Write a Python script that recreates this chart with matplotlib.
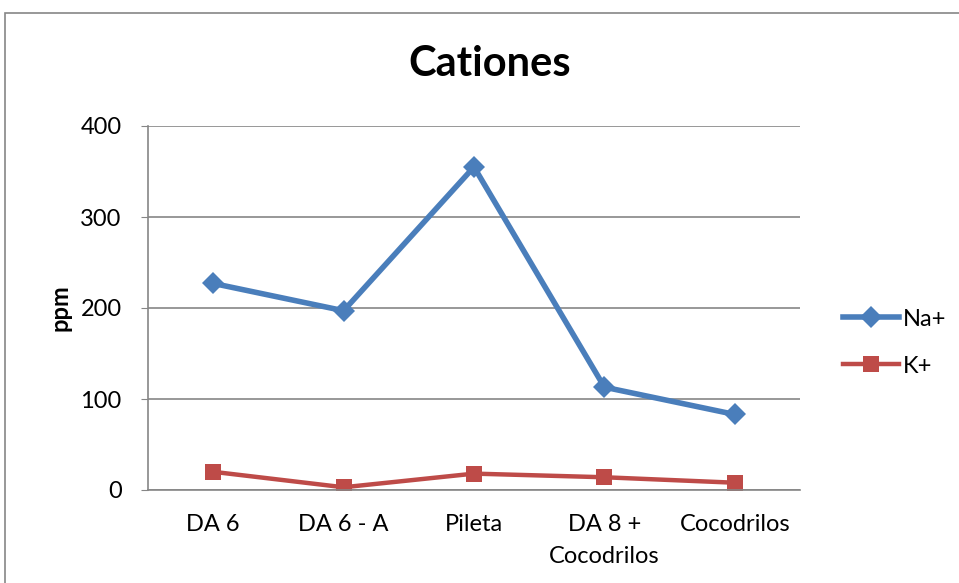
import matplotlib
matplotlib.use("Agg")
import matplotlib.pyplot as plt
from matplotlib.patches import Rectangle

categories = ["DA 6", "DA 6 - A", "Pileta", "DA 8 +\nCocodrilos", "Cocodrilos"]
na_values = [227, 197, 355, 113, 83]
k_values = [20, 3, 18, 14, 8]
yticks = [0, 100, 200, 300, 400]

plt.rcParams['font.family'] = ['Lato', 'DejaVu Sans']

W, H = 959, 583
fig = plt.figure(figsize=(W / 100, H / 100), dpi=100)
ax = fig.add_axes([148 / W, 1 - 490 / H, (800 - 148) / W, (490 - 126) / H])

x = list(range(len(categories)))
ax.plot(x, na_values, color="#4A7EBB", lw=4.0, marker="D", markersize=11,
        markeredgewidth=0, label="Na+", solid_joinstyle="round")
ax.plot(x, k_values, color="#BE4B48", lw=3.2, marker="s", markersize=11,
        markeredgewidth=0, label="K+")

ax.set_xlim(-0.5, len(categories) - 0.5)
ax.set_ylim(0, 400)
ax.set_yticks(yticks)
ax.set_yticklabels([str(v) for v in yticks])
ax.set_xticks(x)
ax.set_xticklabels(categories, linespacing=1.65)
ax.tick_params(axis="x", length=0, labelsize=17, pad=17)
ax.tick_params(axis="y", length=5, color="#868686", labelsize=17, pad=14)
ax.yaxis.grid(True, color="#868686", lw=1.2)
ax.set_axisbelow(True)
for s in ["top", "right"]:
    ax.spines[s].set_visible(False)
for s in ["left", "bottom"]:
    ax.spines[s].set_color("#868686")
    ax.spines[s].set_linewidth(1.2)

ax.set_ylabel("ppm", fontsize=17, fontweight="bold", labelpad=6)
fig.text(490 / W, 1 - 64 / H, "Cationes", fontsize=30, fontweight="bold",
         ha="center", va="center")

leg = ax.legend(loc="center left", bbox_to_anchor=(1.033, 0.405), frameon=False,
                fontsize=17, handlelength=2.4, labelspacing=1.1, handletextpad=0.15)

fig.patches.append(Rectangle((5 / W, -0.1), 1.2, 1.1 - 13 / H, transform=fig.transFigure,
                             fill=False, edgecolor="#868686", lw=1.2))

fig.savefig("out.png", dpi=100)
